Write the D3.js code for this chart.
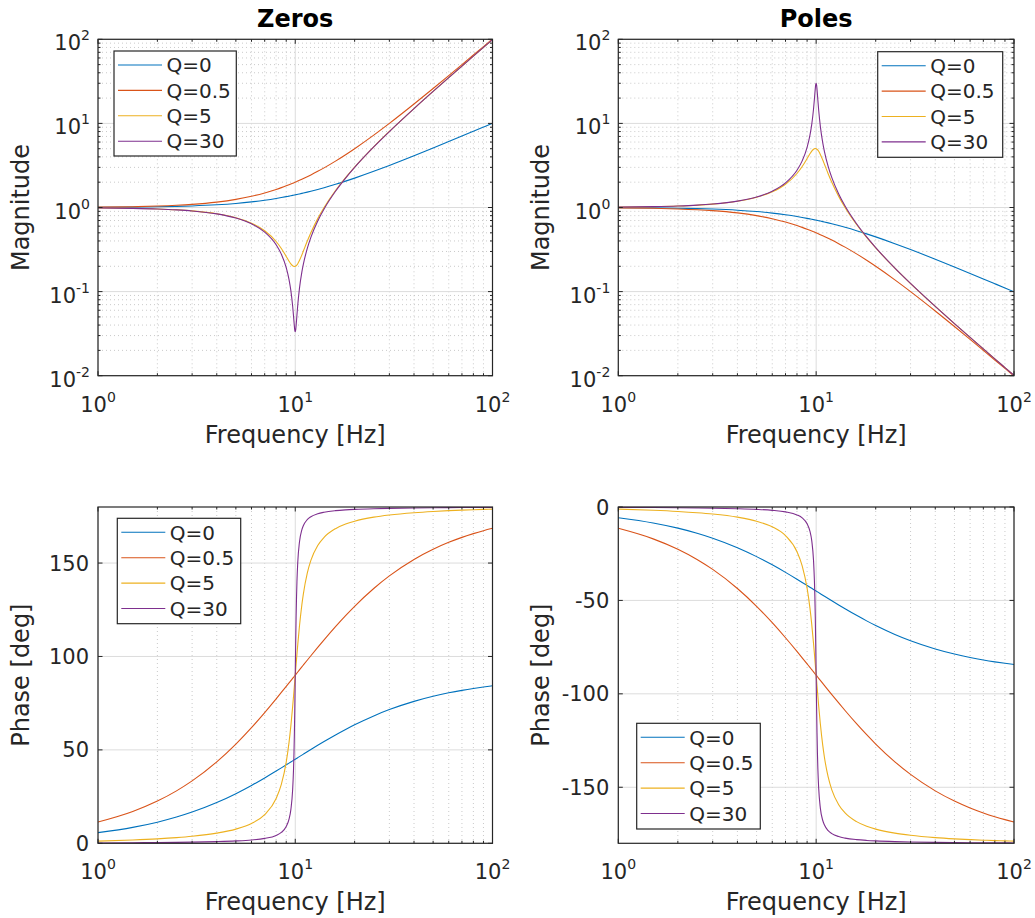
<!DOCTYPE html>
<html><head><meta charset="utf-8">
<script src="https://cdn.jsdelivr.net/npm/d3@7"></script>
<style>
body{margin:0;background:#fff}
svg{display:block}
text{font-family:"DejaVu Sans",sans-serif;fill:#262626}
</style>
</head><body>
<svg id="c" width="1035" height="918"></svg>
<script>
// ---------- data ----------
const freq = [1,1.5,2,2.5,3,4,5,6,7,8,8.5,9,9.3,9.5,9.7,9.8,9.85,9.9,9.95,10,10.05,10.1,10.15,10.2,10.3,10.5,10.8,11,11.5,12,13,14,16,18,20,25,30,40,50,60,70,80,90,100];
const seriesNames = ["Q=0","Q=0.5","Q=5","Q=30"];
const seriesColors = ["#0072BD","#D95319","#EDB120","#7E2F8E"];

// Zeros - magnitude
const zMagQ0 = [1.005,1.0112,1.0198,1.0308,1.0440,1.0770,1.1180,1.1662,1.2207,1.2806,1.3124,1.3454,1.3656,1.3793,1.3932,1.4001,1.4037,1.4072,1.4107,1.4142,1.4178,1.4213,1.4249,1.4284,1.4356,1.4500,1.4719,1.4866,1.5240,1.5620,1.6401,1.7205,1.8868,2.0591,2.2361,2.6926,3.1623,4.1231,5.0990,6.0828,7.0711,8.0623,9.0554,10.0499];
const zMagQ05 = [1.01,1.0225,1.04,1.0625,1.09,1.16,1.25,1.36,1.49,1.64,1.7225,1.81,1.8649,1.9025,1.9409,1.9604,1.9702,1.9801,1.99,2,2.01,2.0201,2.0302,2.0404,2.0609,2.1025,2.1664,2.21,2.3225,2.44,2.69,2.96,3.56,4.24,5,7.25,10,17,26,37,50,65,82,101];
const zMagQ5 = [0.9902,0.97796,0.96083,0.93883,0.91198,0.84380,0.75664,0.65115,0.52887,0.39395,0.32544,0.26173,0.22989,0.21356,0.20280,0.19996,0.19924,0.19900,0.19925,0.2,0.20125,0.20300,0.20524,0.20796,0.21482,0.23368,0.27266,0.30414,0.39611,0.50120,0.73736,1.0,1.59248,2.26874,3.02655,5.27376,8.02247,15.02132,24.02082,35.02057,48.02041,63.02031,80.02025,99.0202];
const zMagQ30 = [0.99001,0.97751,0.96003,0.93754,0.91005,0.84011,0.75018,0.64031,0.51054,0.36099,0.27894,0.19235,0.13861,0.10251,0.06737,0.05133,0.04433,0.03854,0.03463,0.03333,0.03497,0.03921,0.04537,0.05280,0.06991,0.10831,0.17025,0.21318,0.32477,0.44181,0.69136,0.96113,1.56091,2.24080,3.00074,5.25066,8.00062,15.00059,24.00058,35.00057,48.00057,63.00056,80.00056,99.00056];

// Zeros - phase [deg]
const zPhQ0 = [5.711,8.531,11.310,14.036,16.699,21.801,26.565,30.964,34.992,38.660,40.365,41.987,42.920,43.531,44.128,44.421,44.567,44.712,44.856,45,45.143,45.285,45.426,45.567,45.845,46.397,47.203,47.726,48.991,50.194,52.431,54.462,57.995,60.945,63.435,68.199,71.565,75.964,78.690,80.538,81.870,82.875,83.660,84.289];
const zPhQ05 = [11.421,17.062,22.620,28.072,33.398,43.603,53.130,61.928,69.984,77.320,80.731,83.974,85.840,87.062,88.256,88.842,89.134,89.424,89.712,90,90.286,90.570,90.852,91.134,91.690,92.794,94.406,95.452,97.982,100.388,104.862,108.924,115.989,121.890,126.870,136.397,143.130,151.928,157.380,161.075,163.740,165.750,167.320,168.578];
const zPhQ5 = [1.158,1.758,2.386,3.053,3.772,5.440,7.595,10.620,15.350,23.963,31.493,43.452,54.009,62.834,73.057,78.577,81.405,84.261,87.130,90,92.855,95.683,98.469,101.202,106.471,116.020,127.606,133.668,144.503,151.390,159.354,163.740,168.408,170.870,172.405,174.560,175.711,176.947,177.614,178.036,178.329,178.545,178.711,178.843];
const zPhQ30 = [0.193,0.293,0.398,0.509,0.630,0.909,1.273,1.790,2.620,4.236,5.830,8.973,12.924,17.994,28.684,39.518,47.797,58.904,73.260,90,106.660,120.836,131.777,139.917,150.582,161.145,167.792,170.096,173.222,174.806,176.407,177.217,178.042,178.466,178.727,179.091,179.284,179.491,179.602,179.673,179.722,179.758,179.785,179.807];

// Poles - magnitude
const pMagQ0 = [0.99504,0.98894,0.98058,0.97014,0.95783,0.92848,0.89443,0.85749,0.81923,0.78087,0.76196,0.74329,0.73227,0.72499,0.71779,0.71421,0.71242,0.71064,0.70888,0.70711,0.70534,0.70359,0.70181,0.70008,0.69658,0.68965,0.67940,0.67267,0.65617,0.64018,0.60971,0.58124,0.53000,0.48564,0.44721,0.37139,0.31623,0.24254,0.19612,0.16440,0.14142,0.12403,0.11043,0.09950];
const pMagQ05 = [0.990099,0.977995,0.961538,0.941176,0.917431,0.862069,0.8,0.735294,0.671141,0.609756,0.580552,0.552486,0.536222,0.525624,0.515225,0.5101,0.50756,0.505025,0.502506,0.5,0.497506,0.495025,0.492557,0.4901,0.485225,0.475624,0.461595,0.452489,0.430571,0.409836,0.371747,0.337838,0.280899,0.235849,0.2,0.137931,0.1,0.058824,0.038462,0.027027,0.02,0.015385,0.012195,0.009901];
const pMagQ5 = [1.0099,1.02254,1.04077,1.06516,1.09652,1.18511,1.32163,1.53574,1.89082,2.53839,3.07276,3.82073,4.34991,4.68252,4.93097,5.001,5.01907,5.02513,5.01882,5,4.96894,4.92611,4.87234,4.80862,4.65506,4.27936,3.66757,3.28796,2.52455,1.99521,1.35619,1.0,0.62795,0.44077,0.33041,0.18962,0.12465,0.06657,0.04163,0.02855,0.02082,0.01587,0.0125,0.0101];
const pMagQ30 = [1.01009,1.02301,1.04163,1.06662,1.09884,1.19032,1.33301,1.56174,1.95871,2.77016,3.585,5.19886,7.21448,9.75515,14.8434,19.4818,22.5581,25.9471,28.8767,30,28.5959,25.5037,22.041,18.9394,14.3041,9.23276,5.87372,4.69087,3.0791,2.26342,1.44642,1.04044,0.64065,0.44627,0.33325,0.19045,0.12499,0.06667,0.04167,0.02857,0.02083,0.01587,0.0125,0.0101];

// Poles - phase [deg]
const pPhQ0 = [-5.711,-8.531,-11.310,-14.036,-16.699,-21.801,-26.565,-30.964,-34.992,-38.660,-40.365,-41.987,-42.920,-43.531,-44.128,-44.421,-44.567,-44.712,-44.856,-45,-45.143,-45.285,-45.426,-45.567,-45.845,-46.397,-47.203,-47.726,-48.991,-50.194,-52.431,-54.462,-57.995,-60.945,-63.435,-68.199,-71.565,-75.964,-78.690,-80.538,-81.870,-82.875,-83.660,-84.289];
const pPhQ05 = [-11.421,-17.062,-22.620,-28.072,-33.398,-43.603,-53.130,-61.928,-69.984,-77.320,-80.731,-83.974,-85.840,-87.062,-88.256,-88.842,-89.134,-89.424,-89.712,-90,-90.286,-90.570,-90.852,-91.134,-91.690,-92.794,-94.406,-95.452,-97.982,-100.388,-104.862,-108.924,-115.989,-121.890,-126.870,-136.397,-143.130,-151.928,-157.380,-161.075,-163.740,-165.750,-167.320,-168.578];
const pPhQ5 = [-1.158,-1.758,-2.386,-3.053,-3.772,-5.440,-7.595,-10.620,-15.350,-23.963,-31.493,-43.452,-54.009,-62.834,-73.057,-78.577,-81.405,-84.261,-87.130,-90,-92.855,-95.683,-98.469,-101.202,-106.471,-116.020,-127.606,-133.668,-144.503,-151.390,-159.354,-163.740,-168.408,-170.870,-172.405,-174.560,-175.711,-176.947,-177.614,-178.036,-178.329,-178.545,-178.711,-178.843];
const pPhQ30 = [-0.193,-0.293,-0.398,-0.509,-0.630,-0.909,-1.273,-1.790,-2.620,-4.236,-5.830,-8.973,-12.924,-17.994,-28.684,-39.518,-47.797,-58.904,-73.260,-90,-106.660,-120.836,-131.777,-139.917,-150.582,-161.145,-167.792,-170.096,-173.222,-174.806,-176.407,-177.217,-178.042,-178.466,-178.727,-179.091,-179.284,-179.491,-179.602,-179.673,-179.722,-179.758,-179.785,-179.807];

// axis tick values
const xMajorExp = [0,1,2];
const magMajorExp = [-2,-1,0,1,2];
const phaseTicksZeros = [0,50,100,150];
const phaseTicksPoles = [-150,-100,-50,0];

// ---------- drawing ----------
const svg = d3.select("#c");
const TXT = "#262626";

const panels = [
  {id:"a", x0:98, x1:492.5, y0:39.3, y1:375.7, kind:"mag", title:"Zeros", ylabel:"Magnitude",
   series:[zMagQ0,zMagQ05,zMagQ5,zMagQ30], legend:{x:114,y:51,w:122.3,h:105}},
  {id:"b", x0:618.3, x1:1014, y0:39.3, y1:375.7, kind:"mag", title:"Poles", ylabel:"Magnitude",
   series:[pMagQ0,pMagQ05,pMagQ5,pMagQ30], legend:{x:877.7,y:51.7,w:125,h:105.6}},
  {id:"c", x0:98, x1:492.5, y0:507, y1:843.3, kind:"phase", domain:[0,180], ticks:phaseTicksZeros, ylabel:"Phase [deg]",
   series:[zPhQ0,zPhQ05,zPhQ5,zPhQ30], legend:{x:117.3,y:518.3,w:123.4,h:105.4}},
  {id:"d", x0:618.3, x1:1014, y0:507, y1:843.3, kind:"phase", domain:[-180,0], ticks:phaseTicksPoles, ylabel:"Phase [deg]",
   series:[pPhQ0,pPhQ05,pPhQ5,pPhQ30], legend:{x:636.7,y:723.3,w:123.6,h:105.7}}
];

function minorLog(lo, hi){ // lo,hi exponents
  const out=[];
  for(let e=lo;e<hi;e++) for(let m=2;m<=9;m++) out.push(m*Math.pow(10,e));
  return out;
}

function supLabel(sel, exp){
  sel.append("tspan").text("10");
  sel.append("tspan").attr("font-size",14).attr("dy",-10).text(String(exp));
}

panels.forEach(p=>{
  const g = svg.append("g");
  const x = d3.scaleLog().domain([1,100]).range([p.x0,p.x1]);
  const y = p.kind==="mag"
    ? d3.scaleLog().domain([0.01,100]).range([p.y1,p.y0])
    : d3.scaleLinear().domain(p.domain).range([p.y1,p.y0]);

  // background
  g.append("rect").attr("x",p.x0).attr("y",p.y0).attr("width",p.x1-p.x0).attr("height",p.y1-p.y0).attr("fill","#fff");

  // minor grid
  const xMinor = minorLog(0,2);
  g.selectAll(null).data(xMinor).enter().append("line")
    .attr("x1",d=>x(d)).attr("x2",d=>x(d)).attr("y1",p.y0).attr("y2",p.y1)
    .attr("stroke","#bdbdbd").attr("stroke-width",0.8).attr("stroke-dasharray","1,3");
  if(p.kind==="mag"){
    const yMinor = minorLog(-2,2);
    g.selectAll(null).data(yMinor).enter().append("line")
      .attr("y1",d=>y(d)).attr("y2",d=>y(d)).attr("x1",p.x0).attr("x2",p.x1)
      .attr("stroke","#bdbdbd").attr("stroke-width",0.8).attr("stroke-dasharray","1,3");
  }
  // major grid
  const xMaj = xMajorExp.map(e=>Math.pow(10,e));
  g.selectAll(null).data(xMaj).enter().append("line")
    .attr("x1",d=>x(d)).attr("x2",d=>x(d)).attr("y1",p.y0).attr("y2",p.y1)
    .attr("stroke","#dcdcdc").attr("stroke-width",1);
  const yMaj = p.kind==="mag" ? magMajorExp.map(e=>Math.pow(10,e)) : p.ticks;
  g.selectAll(null).data(yMaj).enter().append("line")
    .attr("y1",d=>y(d)).attr("y2",d=>y(d)).attr("x1",p.x0).attr("x2",p.x1)
    .attr("stroke","#dcdcdc").attr("stroke-width",1);

  // curves
  const clipId = "clip"+p.id;
  svg.append("clipPath").attr("id",clipId).append("rect")
    .attr("x",p.x0).attr("y",p.y0).attr("width",p.x1-p.x0).attr("height",p.y1-p.y0);
  const line = d3.line().x((d,i)=>x(freq[i])).y(d=>y(d)).curve(d3.curveMonotoneX);
  const cg = g.append("g").attr("clip-path",`url(#${clipId})`);
  p.series.forEach((s,i)=>{
    cg.append("path").attr("d",line(s)).attr("fill","none")
      .attr("stroke",seriesColors[i]).attr("stroke-width",1.1);
  });

  // frame and ticks
  g.append("rect").attr("x",p.x0).attr("y",p.y0).attr("width",p.x1-p.x0).attr("height",p.y1-p.y0)
    .attr("fill","none").attr("stroke",TXT).attr("stroke-width",1.2);
  const TL=4.5, TLm=2.5;
  const tk = g.append("g").attr("stroke",TXT).attr("stroke-width",1);
  xMaj.forEach(v=>{
    tk.append("line").attr("x1",x(v)).attr("x2",x(v)).attr("y1",p.y1).attr("y2",p.y1-TL);
    tk.append("line").attr("x1",x(v)).attr("x2",x(v)).attr("y1",p.y0).attr("y2",p.y0+TL);
  });
  xMinor.forEach(v=>{
    tk.append("line").attr("x1",x(v)).attr("x2",x(v)).attr("y1",p.y1).attr("y2",p.y1-TLm);
    tk.append("line").attr("x1",x(v)).attr("x2",x(v)).attr("y1",p.y0).attr("y2",p.y0+TLm);
  });
  yMaj.forEach(v=>{
    tk.append("line").attr("y1",y(v)).attr("y2",y(v)).attr("x1",p.x0).attr("x2",p.x0+TL);
    tk.append("line").attr("y1",y(v)).attr("y2",y(v)).attr("x1",p.x1).attr("x2",p.x1-TL);
  });
  if(p.kind==="mag"){
    minorLog(-2,2).forEach(v=>{
      tk.append("line").attr("y1",y(v)).attr("y2",y(v)).attr("x1",p.x0).attr("x2",p.x0+TLm);
      tk.append("line").attr("y1",y(v)).attr("y2",y(v)).attr("x1",p.x1).attr("x2",p.x1-TLm);
    });
  }

  // x tick labels
  xMajorExp.forEach(e=>{
    const t = g.append("text").attr("x",x(Math.pow(10,e))).attr("y",p.y1+36)
      .attr("text-anchor","middle").attr("font-size",21);
    supLabel(t,e);
  });
  // y tick labels
  if(p.kind==="mag"){
    magMajorExp.forEach(e=>{
      const t = g.append("text").attr("x",p.x0-8).attr("y",y(Math.pow(10,e))+11)
        .attr("text-anchor","end").attr("font-size",21);
      supLabel(t,e);
    });
  } else {
    p.ticks.forEach(v=>{
      g.append("text").attr("x",p.x0-9).attr("y",y(v)).attr("dy","0.36em")
        .attr("text-anchor","end").attr("font-size",21).text(String(v));
    });
  }

  // axis labels
  g.append("text").attr("x",(p.x0+p.x1)/2).attr("y",p.y1+67).attr("text-anchor","middle")
    .attr("font-size",24).text("Frequency [Hz]");
  const ylx = p.x0 - 69;
  g.append("text").attr("transform",`translate(${ylx},${(p.y0+p.y1)/2}) rotate(-90)`)
    .attr("text-anchor","middle").attr("font-size",24).text(p.ylabel);
  if(p.title){
    g.append("text").attr("x",(p.x0+p.x1)/2).attr("y",p.y0-12.5).attr("text-anchor","middle")
      .attr("font-size",24).attr("font-weight","bold").style("fill","#000").text(p.title);
  }

  // legend
  const L = p.legend;
  const lg = g.append("g");
  lg.append("rect").attr("x",L.x).attr("y",L.y).attr("width",L.w).attr("height",L.h)
    .attr("fill","#fff").attr("stroke",TXT).attr("stroke-width",1.2);
  seriesNames.forEach((n,i)=>{
    const yy = L.y + 14 + i*25.4;
    lg.append("line").attr("x1",L.x+4).attr("x2",L.x+48).attr("y1",yy).attr("y2",yy)
      .attr("stroke",seriesColors[i]).attr("stroke-width",1.1);
    lg.append("text").attr("x",L.x+52.5).attr("y",yy).attr("dy","0.36em")
      .attr("font-size",20).text(n);
  });
});
</script>
</body></html>
